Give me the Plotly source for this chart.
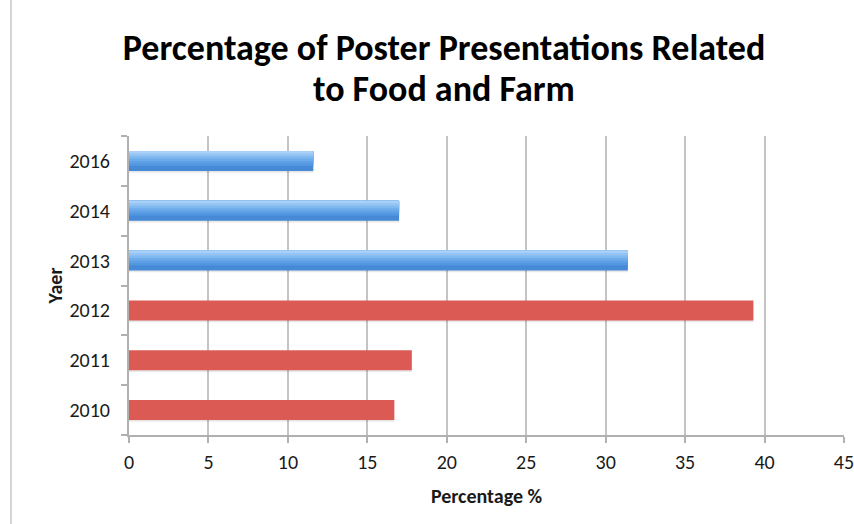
import plotly.graph_objects as go

# ---- data ----
years = ["2010", "2011", "2012", "2013", "2014", "2016"]
percentages = [16.7, 17.8, 39.3, 31.4, 17.0, 11.6]
groups = ["red", "red", "red", "blue", "blue", "blue"]
x_ticks = [0, 5, 10, 15, 20, 25, 30, 35, 40, 45]

title_line1 = "Percentage of Poster Presentations Related"
title_line2 = "to Food and Farm"
x_title = "Percentage %"
y_title = "Yaer"

FONT = "Carlito, Lato, 'Open Sans', sans-serif"

red_y = [y for y, g in zip(years, groups) if g == "red"]
red_x = [v for v, g in zip(percentages, groups) if g == "red"]
blue_y = [y for y, g in zip(years, groups) if g == "blue"]
blue_x = [v for v, g in zip(percentages, groups) if g == "blue"]

fig = go.Figure()

# soft shadow under all bars
fig.add_trace(go.Bar(
    y=years, x=percentages, orientation="h",
    width=0.05, offset=-0.235,
    marker=dict(color="rgba(0,0,0,0.09)", line=dict(width=0)),
    hoverinfo="skip", showlegend=False,
))

# red bars (flat)
fig.add_trace(go.Bar(
    y=red_y, x=red_x, orientation="h",
    width=0.4, offset=-0.2,
    marker=dict(color="#dc5a54", line=dict(width=0)),
    showlegend=False,
))

# blue bars with a vertical gradient (dark bottom -> light top), layered
stripes = ["#4689d6", "#5196df", "#5ea0e6", "#6eabeb", "#80b8f0", "#94c4f4", "#a9d0f7"]
n = len(stripes)
step = 0.4 / (n + 1)
for i, c in enumerate(stripes):
    start = -0.2 + i * step + (step if i > 0 else 0)
    fig.add_trace(go.Bar(
        y=blue_y, x=blue_x, orientation="h",
        width=0.2 - start, offset=start,
        marker=dict(color=c, line=dict(width=0)),
        showlegend=False,
    ))

PT, PB = 136, 435


def py2paper(py):
    return (PB - py) / (PB - PT)


fig.update_layout(
    width=854, height=524,
    margin=dict(l=129, r=10, t=PT, b=524 - PB),
    paper_bgcolor="white", plot_bgcolor="white",
    barmode="overlay",
    font=dict(family=FONT, color="#1a1a1a", size=20),
    title=dict(
        text=title_line1,
        x=444 / 854, xanchor="center", xref="container",
        y=1 - 47 / 524, yanchor="middle", yref="container",
        font=dict(family=FONT, size=36, color="#000000", weight="bold"),
    ),
    annotations=[dict(
        text=title_line2, showarrow=False,
        xref="paper", yref="paper",
        x=(444 - 129) / 715, y=py2paper(89),
        xanchor="center", yanchor="middle",
        font=dict(family=FONT, size=36, color="#000000", weight="bold"),
    )],
    xaxis=dict(
        range=[0, 45], tickvals=x_ticks, ticktext=[str(t) for t in x_ticks],
        automargin=False,
        showgrid=True, gridcolor="#c4c4c4", gridwidth=2,
        showline=True, linecolor="#b0b0b0", linewidth=2,
        ticks="outside", ticklen=6, tickcolor="#b0b0b0", tickwidth=2,
        zeroline=False,
        tickfont=dict(family=FONT, size=20, color="#1a1a1a"),
        ticklabelstandoff=2,
        ticklabeloverflow="allow",
        title=dict(text=x_title, standoff=16,
                   font=dict(family=FONT, size=20, color="#1a1a1a", weight="bold")),
    ),
    yaxis=dict(
        type="category", categoryorder="array", categoryarray=years,
        automargin=False,
        showgrid=False,
        showline=True, linecolor="#b0b0b0", linewidth=2,
        ticks="outside", ticklen=6, tickcolor="#b0b0b0", tickwidth=2,
        tickson="boundaries",
        tickfont=dict(family=FONT, size=20, color="#1a1a1a"),
        ticklabelstandoff=13,
        title=dict(text=y_title, standoff=1,
                   font=dict(family=FONT, size=20, color="#1a1a1a", weight="bold")),
    ),
    shapes=[dict(
        type="line", xref="paper", yref="paper",
        x0=(11 - 129) / 715, x1=(11 - 129) / 715, y0=-89 / 299, y1=1 + 136 / 299,
        line=dict(color="#d4d4d4", width=2),
    )],
)

fig.write_html("out.html")
